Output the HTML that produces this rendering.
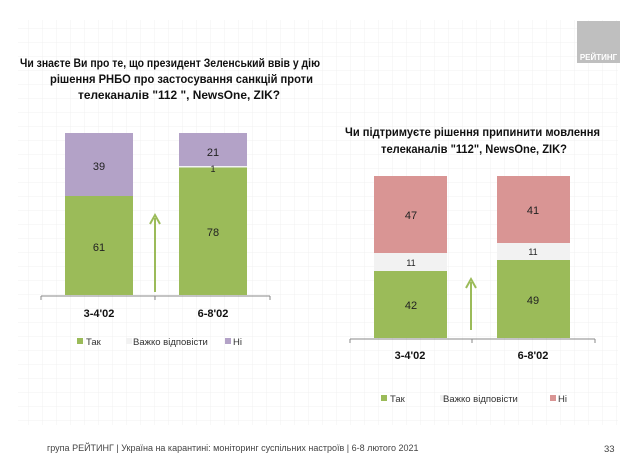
<!DOCTYPE html>
<html><head><meta charset="utf-8"><style>
body{margin:0;width:638px;height:456px;overflow:hidden;background:#fff;font-family:"Liberation Sans",sans-serif;}
svg text{font-family:"Liberation Sans",sans-serif;}
</style></head><body>
<svg width="638" height="456" xmlns="http://www.w3.org/2000/svg">
<defs><pattern id="g" width="14" height="14" patternUnits="userSpaceOnUse"><path d="M14 0H0V14" fill="none" stroke="#f0f0f0" stroke-width="1"/></pattern></defs>
<rect x="18" y="20" width="600" height="405" fill="url(#g)"/>
<rect x="577" y="21" width="43" height="42" fill="#bfbfbf"/>
<text x="598.5" y="60" font-size="8" font-weight="bold" fill="#fff" text-anchor="middle">РЕЙТИНГ</text>
<g font-weight="bold" font-size="12" fill="#111">
<text x="20" y="67" textLength="300" lengthAdjust="spacingAndGlyphs">Чи знаєте Ви про те, що президент Зеленський ввів у дію</text>
<text x="50" y="83" textLength="263" lengthAdjust="spacingAndGlyphs">рішення РНБО про застосування санкцій проти</text>
<text x="78" y="99" textLength="202" lengthAdjust="spacingAndGlyphs">телеканалів "112 ", NewsOne, ZIK?</text>
<text x="345" y="136" textLength="255" lengthAdjust="spacingAndGlyphs">Чи підтримуєте рішення припинити мовлення</text>
<text x="381" y="153" textLength="186" lengthAdjust="spacingAndGlyphs">телеканалів "112", NewsOne, ZIK?</text>
</g>
<!-- left chart -->
<rect x="65" y="133" width="68" height="63" fill="#b3a2c7"/>
<rect x="65" y="196" width="68" height="99" fill="#9bbb59"/>
<rect x="179" y="133" width="68" height="33" fill="#b3a2c7"/>
<rect x="179" y="166" width="68" height="1.5" fill="#f2f2f2"/>
<rect x="179" y="167.5" width="68" height="127.5" fill="#9bbb59"/>
<path d="M41 296H270M41 296v4M155 296v4M270 296v4" stroke="#888" fill="none"/>
<path d="M155 292V218" stroke="#9bbb59" stroke-width="2"/>
<path d="M150 224L155 215L160 224" stroke="#9bbb59" stroke-width="2" fill="none"/>
<!-- right chart -->
<rect x="374" y="176" width="73" height="77" fill="#d99594"/>
<rect x="374" y="253" width="73" height="18" fill="#f2f2f2"/>
<rect x="374" y="271" width="73" height="67" fill="#9bbb59"/>
<rect x="497" y="176" width="73" height="67" fill="#d99594"/>
<rect x="497" y="243" width="73" height="17" fill="#f2f2f2"/>
<rect x="497" y="260" width="73" height="78" fill="#9bbb59"/>
<path d="M350 339H595M350 339v4M472 339v4M595 339v4" stroke="#888" fill="none"/>
<path d="M471 330V282" stroke="#9bbb59" stroke-width="2"/>
<path d="M466 288L471 279L476 288" stroke="#9bbb59" stroke-width="2" fill="none"/>
<g font-size="11" text-anchor="middle" fill="#222">
<text x="99" y="170">39</text><text x="99" y="251">61</text>
<text x="213" y="156">21</text><text x="213" y="172" font-size="9">1</text><text x="213" y="236">78</text>
<text x="411" y="219">47</text><text x="411" y="266" font-size="9">11</text><text x="411" y="309">42</text>
<text x="533" y="214">41</text><text x="533" y="255" font-size="9">11</text><text x="533" y="304">49</text>
</g>
<g font-size="11" font-weight="bold" text-anchor="middle" fill="#111">
<text x="99" y="317">3-4'02</text><text x="213" y="317">6-8'02</text>
<text x="410" y="359">3-4'02</text><text x="533" y="359">6-8'02</text>
</g>
<!-- legends -->
<g font-size="9.5" fill="#333">
<rect x="77" y="338" width="6" height="6" fill="#9bbb59"/><text x="86" y="345">Так</text>
<rect x="126" y="338" width="6" height="6" fill="#f2f2f2"/><text x="133" y="345">Важко відповісти</text>
<rect x="225" y="338" width="6" height="6" fill="#b3a2c7"/><text x="233" y="345">Ні</text>
<rect x="381" y="395" width="6" height="6" fill="#9bbb59"/><text x="390" y="402">Так</text>
<rect x="440" y="395" width="6" height="6" fill="#f2f2f2"/><text x="443" y="402">Важко відповісти</text>
<rect x="550" y="395" width="6" height="6" fill="#d99594"/><text x="558" y="402">Ні</text>
</g>
<text x="47" y="451" font-size="9" fill="#444">група РЕЙТИНГ | Україна на карантині: моніторинг суспільних настроїв | 6-8 лютого 2021</text>
<text x="604" y="452" font-size="9.5" fill="#444">33</text>
</svg>
</body></html>
